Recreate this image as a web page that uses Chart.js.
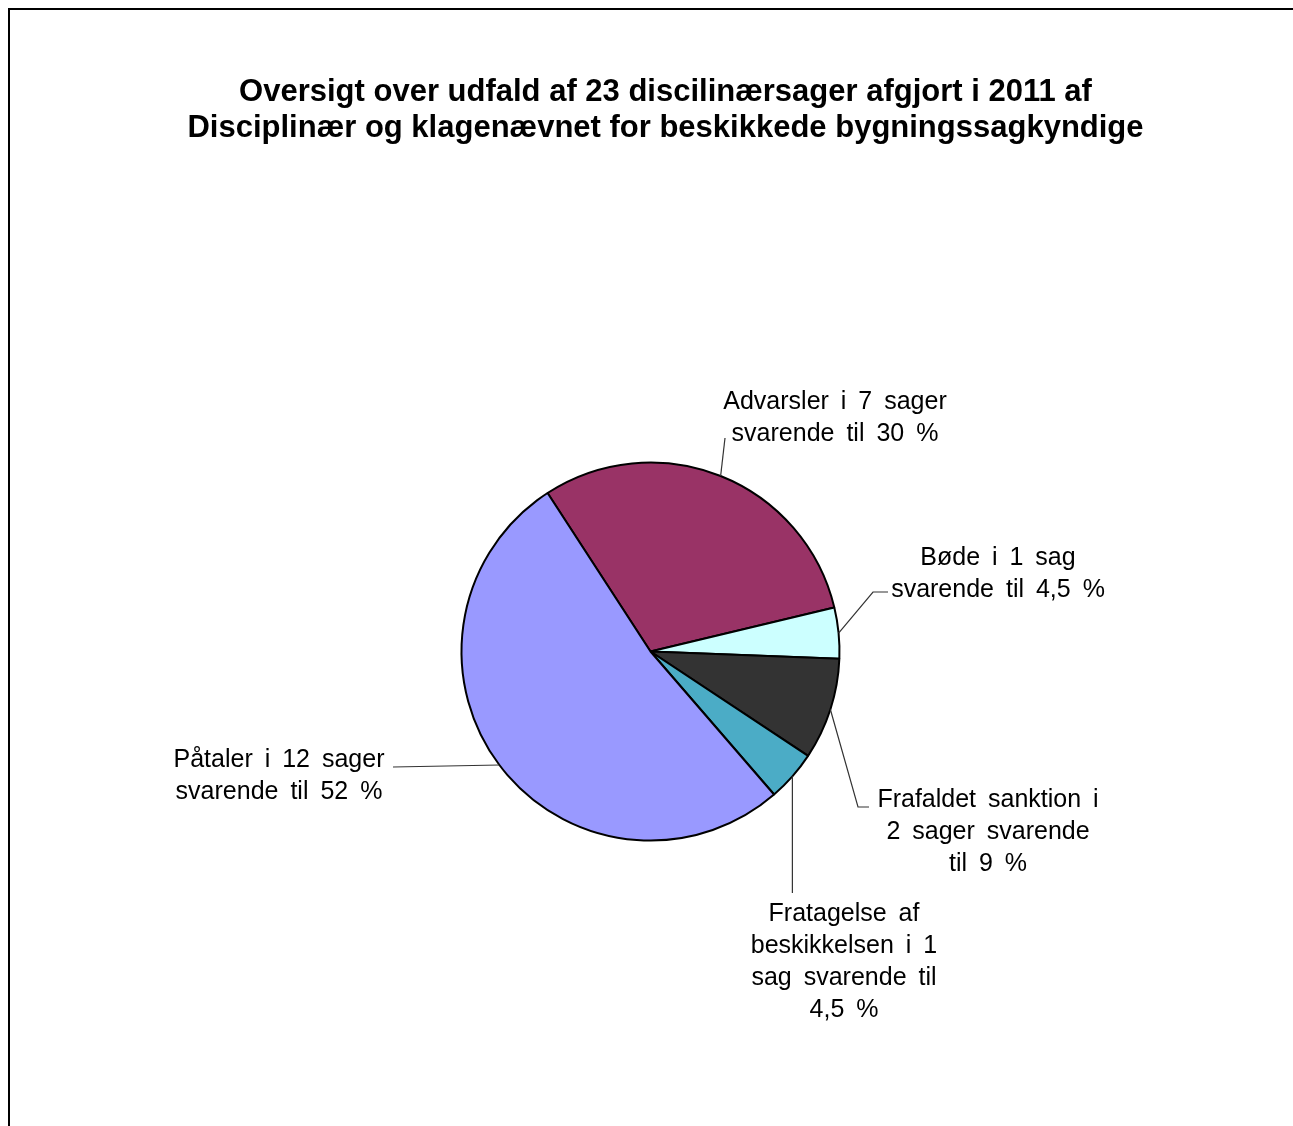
<!DOCTYPE html>
<html>
<head>
<meta charset="utf-8">
<script src="https://cdn.jsdelivr.net/npm/chart.js@4"></script>
<style>
  html, body { margin: 0; padding: 0; background: #ffffff; }
  #wrap { width: 1293px; height: 1126px; }
</style>
</head>
<body>
<div id="wrap"><canvas id="c" width="1293" height="1126"></canvas></div>
<script>
// ---- data ----
const titleLines = [
  'Oversigt over udfald af 23 discilinærsager afgjort i 2011 af',
  'Disciplinær og klagenævnet for beskikkede bygningssagkyndige'
];
const categories = ['Advarsler', 'Bøde', 'Frafaldet sanktion', 'Fratagelse af beskikkelsen', 'Påtaler'];
const caseCounts = [7, 1, 2, 1, 12];
const labelLines = [
  ['Advarsler i 7 sager', 'svarende til 30 %'],
  ['Bøde i 1 sag', 'svarende til 4,5 %'],
  ['Frafaldet sanktion i', '2 sager svarende', 'til 9 %'],
  ['Fratagelse af', 'beskikkelsen i 1', 'sag svarende til', '4,5 %'],
  ['Påtaler i 12 sager', 'svarende til 52 %']
];
const sliceColors = ['#993366', '#CCFFFF', '#333333', '#4BACC6', '#9999FF'];

// ---- label layout (positions only) ----
const labelLayout = [
  { path: [[725, 438]], x: 835, y: 409 },
  { path: [[873, 592], [888, 592]], x: 998, y: 565 },
  { path: [[858, 807], [869, 807]], x: 988, y: 807 },
  { path: [[null, 893]], x: 844, y: 921 },
  { path: [[393, 767]], x: 279, y: 767 }
];
const LABEL_FONT = '25px "Liberation Sans", Arial, sans-serif';
const WORD_EXTRA = 5;
const LINE_STEP = 32;

function drawSpacedText(ctx, text, cx, y) {
  const words = text.split(' ');
  const sp = ctx.measureText(' ').width + WORD_EXTRA;
  const widths = words.map(w => ctx.measureText(w).width);
  const total = widths.reduce((a, b) => a + b, 0) + sp * (words.length - 1);
  let x = cx - total / 2;
  ctx.textAlign = 'left';
  words.forEach((w, i) => { ctx.fillText(w, x, y); x += widths[i] + sp; });
}

const overlay = {
  id: 'overlay',
  beforeDraw(chart) {
    const ctx = chart.ctx;
    ctx.save();
    ctx.fillStyle = '#ffffff';
    ctx.fillRect(0, 0, chart.width, chart.height);
    ctx.strokeStyle = '#000000';
    ctx.lineWidth = 2;
    ctx.strokeRect(9, 9, chart.width + 50, chart.height + 50);
    ctx.restore();
  },
  afterDraw(chart) {
    const ctx = chart.ctx;
    ctx.save();
    ctx.fillStyle = '#000000';
    ctx.font = 'bold 31px "Liberation Sans", Arial, sans-serif';
    ctx.textAlign = 'center';
    ctx.textBaseline = 'alphabetic';
    ctx.fillText(titleLines[0], 665.5, 101);
    ctx.fillText(titleLines[1], 665.5, 137);

    const arcs = chart.getDatasetMeta(0).data;
    ctx.font = LABEL_FONT;
    arcs.forEach((arc, i) => {
      const p = arc.getProps(['x', 'y', 'startAngle', 'endAngle', 'outerRadius'], true);
      const mid = (p.startAngle + p.endAngle) / 2;
      const ax = p.x + Math.cos(mid) * p.outerRadius;
      const ay = p.y + Math.sin(mid) * p.outerRadius;
      const L = labelLayout[i];
      ctx.strokeStyle = '#333333';
      ctx.lineWidth = 1.2;
      ctx.beginPath();
      ctx.moveTo(ax, ay);
      L.path.forEach(pt => ctx.lineTo(pt[0] === null ? ax : pt[0], pt[1]));
      ctx.stroke();
      ctx.fillStyle = '#000000';
      labelLines[i].forEach((line, k) => drawSpacedText(ctx, line, L.x, L.y + k * LINE_STEP));
    });
    ctx.restore();
  }
};

new Chart(document.getElementById('c'), {
  type: 'pie',
  data: {
    labels: categories,
    datasets: [{
      data: caseCounts,
      backgroundColor: sliceColors,
      borderColor: '#000000',
      borderWidth: 2,
      borderAlign: 'center'
    }]
  },
  options: {
    responsive: false,
    animation: false,
    rotation: -33,
    radius: 189,
    layout: { padding: { left: 8, right: 0, top: 177, bottom: 0 } },
    plugins: {
      legend: { display: false },
      title: { display: false },
      tooltip: { enabled: false }
    }
  },
  plugins: [overlay]
});
</script>
</body>
</html>
